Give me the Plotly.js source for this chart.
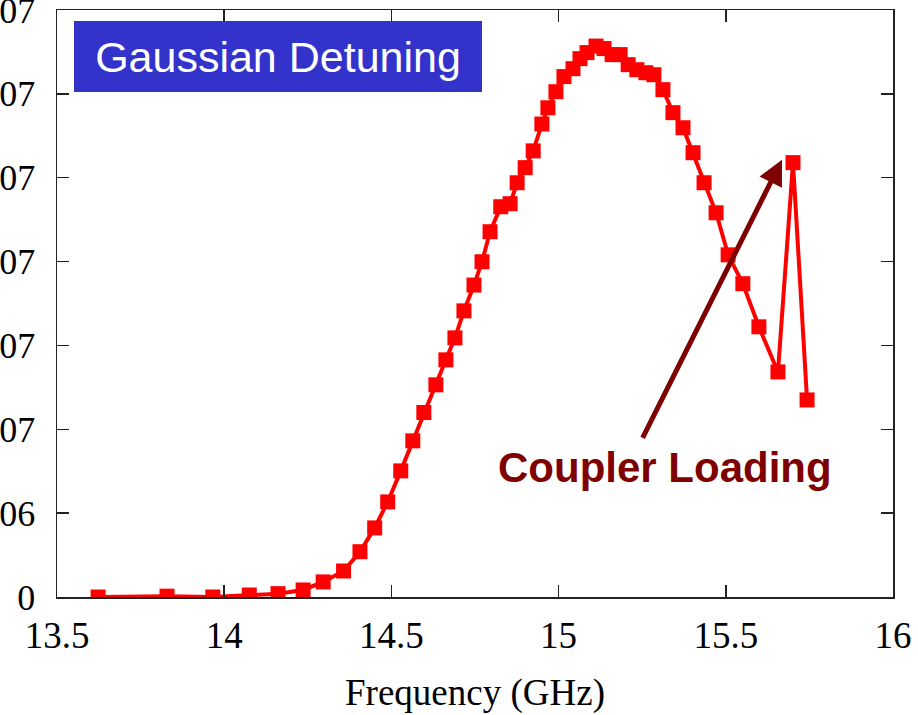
<!DOCTYPE html>
<html>
<head>
<meta charset="utf-8">
<script src="https://cdn.plot.ly/plotly-3.0.1.min.js"></script>
<style>html,body{margin:0;padding:0;background:#fff;}#chart{width:918px;height:715px;}</style>
</head>
<body>
<div id="chart"></div>
<script>
// Frequency (GHz)
const freq = [13.623, 13.829, 13.966, 14.075, 14.161, 14.236, 14.296, 14.357, 14.406, 14.45, 14.489, 14.528, 14.564, 14.597, 14.633, 14.663, 14.69, 14.717, 14.747, 14.771, 14.795, 14.827, 14.855, 14.876, 14.9, 14.924, 14.95, 14.968, 14.992, 15.016, 15.043, 15.064, 15.085, 15.112, 15.136, 15.16, 15.184, 15.208, 15.234, 15.261, 15.285, 15.312, 15.342, 15.372, 15.402, 15.435, 15.471, 15.507, 15.551, 15.599, 15.656, 15.701, 15.743];
// Response values
const values = [0, 0.05e6, 0, 0.12e6, 0.2e6, 0.42e6, 0.9e6, 1.55e6, 2.7e6, 4.12e6, 5.67e6, 7.52e6, 9.31e6, 11.0e6, 12.65e6, 14.14e6, 15.45e6, 17.06e6, 18.6e6, 19.99e6, 21.78e6, 23.27e6, 23.45e6, 24.7e6, 25.6e6, 26.6e6, 28.2e6, 29.17e6, 30.13e6, 31.03e6, 31.5e6, 32.1e6, 32.46e6, 32.85e6, 32.7e6, 32.34e6, 32.34e6, 31.74e6, 31.44e6, 31.26e6, 31.14e6, 30.25e6, 28.88e6, 27.98e6, 26.49e6, 24.7e6, 22.91e6, 20.4e6, 18.68e6, 16.11e6, 13.42e6, 25.9e6, 11.75e6];
// Y tick values and labels
const yTickVals = [0, 5e6, 1e7, 1.5e7, 2e7, 2.5e7, 3e7, 3.5e7];
const yTickText = ["0", "5e+06", "1e+07", "1.5e+07", "2e+07", "2.5e+07", "3e+07", "3.5e+07"];
const xTickVals = [13.5, 14, 14.5, 15, 15.5, 16];
const xTickText = ["13.5", "14", "14.5", "15", "15.5", "16"];

const serif = "Liberation Serif, Times New Roman, serif";

const trace = {
  x: freq, y: values, type: 'scatter', mode: 'lines+markers',
  line: {color: '#ff0000', width: 4},
  marker: {symbol: 'square', size: 15, color: '#ff0000'},
  showlegend: false, hoverinfo: 'skip'
};

const layout = {
  width: 918, height: 715,
  margin: {l: 57, r: 25, t: 10, b: 118},
  paper_bgcolor: '#ffffff', plot_bgcolor: '#ffffff',
  xaxis: {
    range: [13.5, 16], tickvals: xTickVals, ticktext: xTickText,
    ticks: 'inside', ticklen: 12, tickwidth: 1.5, tickcolor: '#222',
    showline: true, linecolor: '#222', linewidth: 1.5, mirror: 'ticks',
    showgrid: false, zeroline: false,
    tickfont: {family: serif, size: 37, color: '#000'},
    ticklabelstandoff: 5, ticklabeloverflow: 'allow',
    title: {text: 'Frequency (GHz)', font: {family: serif, size: 37, color: '#000'}, standoff: 24}
  },
  yaxis: {
    range: [0, 3.5e7], tickvals: yTickVals, ticktext: yTickText,
    ticks: 'inside', ticklen: 12, tickwidth: 1.5, tickcolor: '#222',
    showline: true, linecolor: '#222', linewidth: 1.5, mirror: 'ticks',
    showgrid: false, zeroline: false,
    tickfont: {family: serif, size: 36, color: '#000'},
    ticklabelstandoff: 13, ticklabeloverflow: 'allow'
  },
  annotations: [
    {
      xref: 'paper', yref: 'paper', x: 0.2644, y: 0.9208, xanchor: 'center', yanchor: 'middle',
      text: 'Gaussian Detuning', showarrow: false,
      font: {family: 'Liberation Sans, Arial, sans-serif', size: 43, color: '#ffffff'},
      bgcolor: '#3333cc', bordercolor: '#3333cc', borderwidth: 0,
      width: 400, height: 63, borderpad: 4
    },
    {
      xref: 'x', yref: 'y', x: 15.668, y: 26.07e6,
      axref: 'x', ayref: 'y', ax: 15.249, ay: 9.4e6,
      text: '', showarrow: true, arrowhead: 2, arrowsize: 1, arrowwidth: 5,
      arrowcolor: '#7f0000', standoff: 0
    },
    {
      xref: 'paper', yref: 'paper', x: 0.7273, y: 0.2198, xanchor: 'center', yanchor: 'middle',
      text: '<b>Coupler Loading</b>', showarrow: false,
      font: {family: 'Liberation Sans, Arial, sans-serif', size: 42, color: '#7f0000'}
    }
  ]
};

Plotly.newPlot('chart', [trace], layout, {displayModeBar: false, staticPlot: true});
</script>
</body>
</html>
